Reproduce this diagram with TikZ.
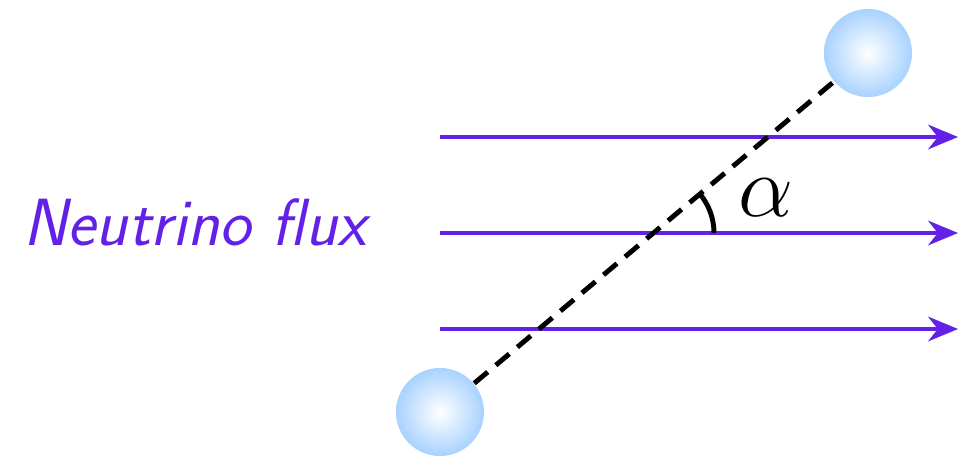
\documentclass[tikz,border=0pt]{standalone}
\usetikzlibrary{arrows.meta}
\definecolor{fluxviolet}{RGB}{98,33,230}
\definecolor{ballblue}{RGB}{168,210,255}
\tikzset{
  fluxline/.style={line width=1.2pt, fluxviolet, -{Stealth[length=8.5pt,width=7pt]}},
  ball/.style={circle, minimum size=0.88cm, inner sep=0pt, inner color=white, outer color=ballblue},
}
\begin{document}
\begin{tikzpicture}
    \useasboundingbox (0,0) rectangle (9.59,4.56);

    % Flux label
    \node[fluxviolet, font=\fontsize{19}{19}\selectfont\sffamily\itshape] (fluxlabel) at (1.95,2.34) {Neutrino flux};

    % Flux lines
    \foreach \lname/\ly in {top/3.19, mid/2.23, bot/1.27} {
        \coordinate (\lname-a) at (4.40,\ly);
        \coordinate (\lname-b) at (9.58,\ly);
        \draw[fluxline] (\lname-a) -- (\lname-b);
    }

    % Detector pair
    \node[ball] (lowball) at (4.40,0.44) {};
    \node[ball] (upball) at (8.68,4.03) {};
    \draw[line width=1.4pt, dash pattern=on 5pt off 3pt] (lowball) -- (upball);

    % Angle to the flux
    \coordinate (cross) at (6.53,2.23);
    \draw[line width=1.4pt] (cross) ++(0.61,0) arc (0:40:0.61);
    \node (alpha) at (7.66,2.58) {\fontsize{23}{23}\selectfont$\alpha$};
\end{tikzpicture}
\end{document}
